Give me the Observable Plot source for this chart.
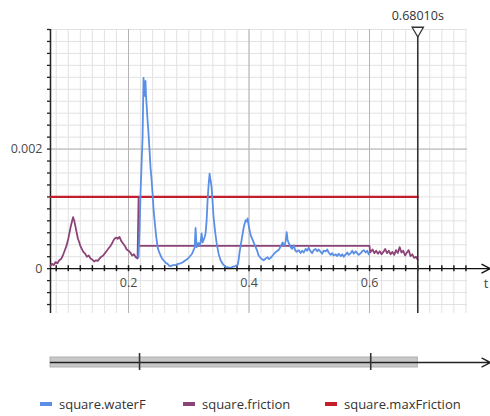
<!DOCTYPE html>
<html><head><meta charset="utf-8">
<script src="https://cdn.jsdelivr.net/npm/d3@7"></script>
<script src="https://cdn.jsdelivr.net/npm/@observablehq/plot@0.6"></script>
<style>
body{margin:0;background:#fff;font-family:"Open Sans",sans-serif;}
#wrap{position:relative;width:490px;height:416px;overflow:hidden;}
#legend{position:absolute;left:0;top:394px;width:490px;height:20px;font-size:13px;color:#333;}
.item{position:absolute;top:0;display:flex;align-items:center;height:20px;white-space:nowrap;}
.sw{width:12px;height:4px;margin-right:7px;}
</style></head><body><div id="wrap"><div id="chart"></div><div id="legend"></div></div>
<script>
// ---- data (time in s, value) ----
const seriesNames = ["square.waterF", "square.friction", "square.maxFriction"];
const seriesColors = ["#5b8fe6", "#8c4478", "#c41e2a"];

const waterT = [0.2166,0.2183,0.2199,0.2216,0.2233,0.2249,0.2258,0.2266,0.2274,0.2282,0.2290,0.2299,0.2308,0.2316,0.2324,0.2332,0.2340,0.2349,0.2365,0.2382,0.2399,0.2415,0.2432,0.2457,0.2482,0.2507,0.2532,0.2557,0.2581,0.2615,0.2648,0.2673,0.2698,0.2740,0.2781,0.2822,0.2864,0.2905,0.2947,0.2988,0.3030,0.3055,0.3080,0.3097,0.3113,0.3130,0.3146,0.3163,0.3180,0.3196,0.3213,0.3230,0.3246,0.3262,0.3279,0.3296,0.3312,0.3329,0.3346,0.3354,0.3362,0.3379,0.3395,0.3412,0.3437,0.3462,0.3495,0.3528,0.3570,0.3611,0.3652,0.3694,0.3727,0.3761,0.3786,0.3811,0.3828,0.3844,0.3861,0.3877,0.3894,0.3910,0.3927,0.3944,0.3960,0.3977,0.3985,0.3993,0.4010,0.4027,0.4044,0.4060,0.4085,0.4110,0.4135,0.4159,0.4201,0.4243,0.4276,0.4309,0.4334,0.4359,0.4392,0.4425,0.4458,0.4492,0.4525,0.4558,0.4575,0.4591,0.4608,0.4625,0.4641,0.4658,0.4675,0.4691,0.4716,0.4741,0.4766,0.4791,0.4824,0.4857,0.4882,0.4907,0.4940,0.4965,0.4990,0.5023,0.5048,0.5073,0.5106,0.5131,0.5156,0.5189,0.5214,0.5239,0.5272,0.5297,0.5322,0.5355,0.5380,0.5405,0.5439,0.5464,0.5489,0.5522,0.5547,0.5572,0.5605,0.5630,0.5655,0.5688,0.5713,0.5738,0.5771,0.5796,0.5821,0.5854,0.5879,0.5904,0.5937,0.5962,0.5987,0.6020];
const waterV = [0.00019,0.00064,0.00126,0.00173,0.00219,0.00319,0.00300,0.00289,0.00305,0.00314,0.00290,0.00276,0.00262,0.00248,0.00238,0.00226,0.00212,0.00198,0.00169,0.00150,0.00126,0.00100,0.00081,0.00056,0.00036,0.00028,0.00022,0.00017,0.00014,0.00010,0.00008,0.00005,0.00004,0.00006,0.00006,0.00008,0.00009,0.00011,0.00014,0.00017,0.00022,0.00025,0.00031,0.00035,0.00068,0.00036,0.00041,0.00043,0.00038,0.00044,0.00059,0.00044,0.00048,0.00052,0.00059,0.00080,0.00114,0.00140,0.00159,0.00152,0.00148,0.00136,0.00112,0.00086,0.00062,0.00043,0.00025,0.00014,0.00007,0.00003,0.00002,0.00001,0.00003,0.00004,0.00005,0.00006,0.00015,0.00028,0.00038,0.00048,0.00058,0.00068,0.00075,0.00081,0.00079,0.00084,0.00078,0.00073,0.00064,0.00056,0.00052,0.00048,0.00042,0.00036,0.00030,0.00022,0.00017,0.00014,0.00017,0.00019,0.00016,0.00018,0.00022,0.00026,0.00029,0.00031,0.00037,0.00044,0.00039,0.00039,0.00046,0.00061,0.00048,0.00043,0.00040,0.00036,0.00033,0.00039,0.00031,0.00028,0.00031,0.00026,0.00030,0.00027,0.00033,0.00030,0.00035,0.00029,0.00026,0.00031,0.00033,0.00029,0.00032,0.00028,0.00025,0.00030,0.00029,0.00032,0.00027,0.00023,0.00026,0.00022,0.00024,0.00021,0.00025,0.00021,0.00024,0.00020,0.00024,0.00027,0.00023,0.00026,0.00030,0.00025,0.00029,0.00026,0.00023,0.00026,0.00029,0.00031,0.00027,0.00030,0.00024];

const frictionT = [0.0705,0.0730,0.0760,0.0790,0.0820,0.0850,0.0880,0.0910,0.0940,0.0970,0.1000,0.1020,0.1040,0.1060,0.1080,0.1100,0.1120,0.1140,0.1160,0.1180,0.1200,0.1220,0.1250,0.1280,0.1310,0.1340,0.1370,0.1400,0.1430,0.1460,0.1490,0.1520,0.1550,0.1580,0.1610,0.1640,0.1670,0.1700,0.1730,0.1760,0.1790,0.1820,0.1850,0.1880,0.1910,0.1940,0.1970,0.2000,0.2030,0.2060,0.2090,0.2120,0.2150,0.2167,0.2169,0.2171,0.6000,0.6010,0.6050,0.6080,0.6110,0.6140,0.6170,0.6200,0.6230,0.6260,0.6290,0.6320,0.6350,0.6380,0.6410,0.6440,0.6470,0.6500,0.6530,0.6560,0.6590,0.6620,0.6650,0.6680,0.6710,0.6740,0.6770,0.6801];
const frictionV = [0.00005,0.00008,0.00006,0.00011,0.00009,0.00014,0.00016,0.00022,0.00030,0.00038,0.00050,0.00060,0.00070,0.00078,0.00086,0.00080,0.00070,0.00060,0.00050,0.00045,0.00038,0.00034,0.00028,0.00025,0.00020,0.00022,0.00017,0.00015,0.00012,0.00014,0.00013,0.00017,0.00020,0.00022,0.00026,0.00030,0.00034,0.00038,0.00043,0.00049,0.00052,0.00050,0.00053,0.00046,0.00042,0.00038,0.00032,0.00030,0.00027,0.00022,0.00024,0.00019,0.00017,0.00120,0.00120,0.00038,0.00038,0.00027,0.00032,0.00026,0.00030,0.00025,0.00029,0.00024,0.00028,0.00033,0.00026,0.00030,0.00024,0.00028,0.00023,0.00031,0.00026,0.00036,0.00027,0.00030,0.00022,0.00027,0.00031,0.00021,0.00024,0.00018,0.00020,0.00015];

const maxFrictionT = [0.0705, 0.6801];
const maxFrictionV = [0.0012, 0.0012];

const xTickValues = [0.2, 0.4, 0.6];
const xTickLabels = ["0.2", "0.4", "0.6"];
const yTickValues = [0, 0.002];
const yTickLabels = ["0", "0.002"];
const cursorT = 0.6801;
const cursorLabel = "0.68010s";
const axisLabel = "t";
const overviewTicks = [0.2183, 0.6020];

// ---- layout ----
const X0 = 0.0705, X1 = 0.8008, XG = 0.7627;
const Y0 = -0.00075, Y1 = 0.004;
const minorX = d3.range(0.08, 0.7601, 0.02);
const minorY = d3.range(-0.0006, 0.00401, 0.0002);

const rows = (T, V) => T.map((t, i) => ({t, v: V[i]}));
const water = rows(waterT, waterV);
const friction = rows(frictionT, frictionV);
const maxF = rows(maxFrictionT, maxFrictionV);

// overview bar positions (y in data units, below the plot)
const SB_T = -0.001486, SB_B = -0.001653, SB_M = -0.001570, SBK_T = -0.001419, SBK_B = -0.001703;

const chart = Plot.plot({
  width: 490, height: 390,
  marginLeft: 50, marginRight: 0, marginTop: 29, marginBottom: 77,
  x: {domain: [X0, X1], axis: null},
  y: {domain: [Y0, Y1], axis: null},
  style: {fontFamily: '"Open Sans", sans-serif', background: "#fff"},
  marks: [
    Plot.ruleX(minorX, {y1: Y0, y2: Y1, stroke: "#e2e2e2", strokeWidth: 1}),
    Plot.ruleY(minorY, {x1: X0, x2: XG, stroke: "#e2e2e2", strokeWidth: 1}),
    Plot.ruleX(xTickValues, {y1: Y0, y2: Y1, stroke: "#b3b3b3", strokeWidth: 1}),
    Plot.ruleY([0.002], {x1: X0, x2: XG, stroke: "#b3b3b3", strokeWidth: 1}),
    // axes
    Plot.ruleX([X0], {y1: Y0, y2: Y1, stroke: "#222", strokeWidth: 1.5}),
    Plot.ruleY(minorY, {x1: X0 - 0.005, x2: X0, stroke: "#222", strokeWidth: 1.3}),
    Plot.ruleX(minorX, {y1: -0.00005, y2: 0.00005, stroke: "#222", strokeWidth: 1.5}),
    // data
    Plot.line(maxF, {x: "t", y: "v", stroke: seriesColors[2], strokeWidth: 2.2}),
    Plot.line(friction, {x: "t", y: "v", stroke: seriesColors[1], strokeWidth: 1.8}),
    Plot.line(water, {x: "t", y: "v", stroke: seriesColors[0], strokeWidth: 1.8}),
    Plot.arrow([0], {x1: X0, x2: X1 - 0.0003, y1: 0, y2: 0, stroke: "#111", strokeWidth: 1.4, headLength: 10, headAngle: 55}),
    Plot.text(xTickLabels, {x: (d, i) => xTickValues[i], y: 0, text: d => d, dy: 14, fontSize: 12.5, fill: "#4a4a4a"}),
    Plot.text(yTickLabels, {x: X0, y: (d, i) => yTickValues[i], text: d => d, textAnchor: "end", dx: -8, fontSize: 12.5, fill: "#4a4a4a"}),
    Plot.text([axisLabel], {x: X1, y: 0, text: d => d, textAnchor: "end", dx: -2, dy: 15, fontSize: 13, fill: "#444"}),
    // cursor
    Plot.ruleX([cursorT], {y1: Y0, y2: Y1, stroke: "#333", strokeWidth: 1.6}),
    Plot.dot([cursorT], {x: d => d, y: Y1, symbol: "triangle", rotate: 180, r: 4.2, fill: "white", stroke: "#333", strokeWidth: 1.3, dy: 1}),
    Plot.text([cursorLabel], {x: cursorT, y: Y1, text: d => d, dy: -14, fontSize: 12.5, fill: "#333"}),
    // overview bar
    Plot.rect([0], {x1: X0, x2: cursorT, y1: SB_T, y2: SB_B, fill: "#c8c8c8", stroke: "#b0b0b0", strokeWidth: 1}),
    Plot.arrow([0], {x1: X0, x2: X1 - 0.0003, y1: SB_M, y2: SB_M, stroke: "#222", strokeWidth: 1.4, headLength: 10, headAngle: 55}),
    Plot.ruleX(overviewTicks, {y1: SBK_T, y2: SBK_B, stroke: "#333", strokeWidth: 1.6})
  ]
});
document.getElementById("chart").appendChild(chart);

const legendPos = [40, 183, 325];
const legend = document.getElementById("legend");
seriesNames.forEach((name, i) => {
  const item = document.createElement("div");
  item.className = "item";
  item.style.left = legendPos[i] + "px";
  const sw = document.createElement("span");
  sw.className = "sw";
  sw.style.background = seriesColors[i];
  item.appendChild(sw);
  item.appendChild(document.createTextNode(name));
  legend.appendChild(item);
});
</script>
</body></html>
